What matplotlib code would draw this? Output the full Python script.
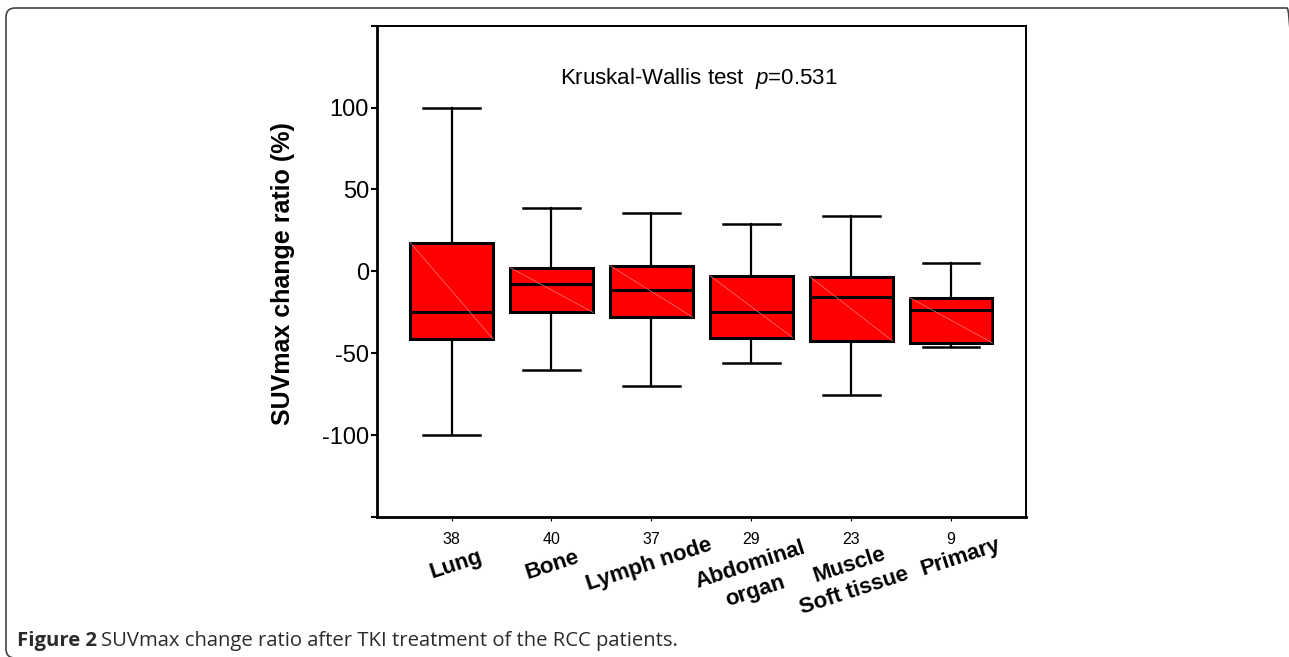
import matplotlib
matplotlib.use('Agg')
import matplotlib.pyplot as plt
from matplotlib.patches import FancyBboxPatch
from matplotlib.transforms import IdentityTransform

plt.rcParams['font.family'] = ['Liberation Sans', 'DejaVu Sans']
plt.rcParams['axes.unicode_minus'] = False
plt.rcParams['mathtext.fontset'] = 'custom'
plt.rcParams['mathtext.rm'] = 'Liberation Sans'
plt.rcParams['mathtext.it'] = 'Liberation Sans:italic'

# data (SUVmax change ratio, %)
sites = ['Lung', 'Bone', 'Lymph node', 'Abdominal\norgan', 'Muscle\nSoft tissue', 'Primary']
counts = [38, 40, 37, 29, 23, 9]
whislo = [-100, -60, -70, -56, -75.5, -46.5]
q1 = [-41.3, -25, -28, -40.5, -42.5, -43.7]
med = [-25, -8, -11.3, -25, -15.4, -23.5]
q3 = [17.6, 2.3, 3.5, -2.6, -3.2, -16]
whishi = [100, 38.7, 35.4, 29.2, 34, 5]

W, H, DPI = 1289, 657, 100
fig = plt.figure(figsize=(W / DPI, H / DPI), dpi=DPI)
ax = fig.add_axes([0.2922, 0.2131, 0.5037, 0.7478])

pos = list(range(1, len(sites) + 1))
bw = 0.83
stats = [dict(whislo=a, q1=b, med=c, q3=d, whishi=e)
         for a, b, c, d, e in zip(whislo, q1, med, q3, whishi)]
ax.bxp(stats, positions=pos, widths=bw, capwidths=0.57, showfliers=False,
       patch_artist=True,
       boxprops=dict(facecolor='#ff0000', edgecolor='black', linewidth=2.2),
       medianprops=dict(color='black', linewidth=2.2),
       whiskerprops=dict(color='black', linewidth=1.6),
       capprops=dict(color='black', linewidth=1.8))

# faint diagonal inside each box (artifact in original)
for p, lo, hi in zip(pos, q1, q3):
    ax.plot([p - bw / 2, p + bw / 2], [hi, lo], color='#ff7a7a', lw=0.5, zorder=3)

ax.set_xlim(0.25, 6.75)
ax.set_ylim(-150, 150)
ax.set_yticks([-150, -100, -50, 0, 50, 100, 150])
ax.set_yticklabels(['', '-100', '-50', '0', '50', '100', ''], fontsize=17)
ax.tick_params(axis='y', direction='out', length=4.5, width=1.5, pad=1)
ax.set_xticks(pos)
ax.set_xticklabels([str(c) for c in counts], fontsize=11.5)
ax.tick_params(axis='x', direction='out', length=3, width=0.8, pad=8)

for s in ['left', 'bottom']:
    ax.spines[s].set_linewidth(2.0)
for s in ['top', 'right']:
    ax.spines[s].set_linewidth(1.4)

ax.set_ylabel('SUVmax change ratio (%)', fontsize=18, fontweight='bold')
ax.yaxis.set_label_coords(-0.1258, 0.496)

# category names, rotated, one text per line (small hand nudges as in the original)
label_dx = [0.04, 0.01, -0.02, -0.01, -0.02, 0.1]
label_dy = [0, 0, 0, 0, 0, 0.015]
for p, name, dx, dy in zip(pos, sites, label_dx, label_dy):
    for k, line in enumerate(name.split('\n')):
        ax.text(p + dx + 0.05 * k, -0.0977 + dy - 0.053 * k, line,
                transform=ax.get_xaxis_transform(),
                rotation=18, rotation_mode='anchor', ha='center', va='center',
                fontsize=16, fontweight='bold')

ax.text(0.496, 0.8935, r'Kruskal-Wallis test  $p$=0.531', transform=ax.transAxes,
        ha='center', va='center', fontsize=16)

# outer journal frame
frame = FancyBboxPatch((6, -1), 1290, H - 8 + 1,
                       boxstyle='round,pad=0,rounding_size=9',
                       transform=IdentityTransform(), fill=False,
                       edgecolor='#444444', linewidth=1.2)
fig.patches.append(frame)

# caption
renderer = fig.canvas.get_renderer()
cap_color = '#2b2b2b'
fs = 13
t1 = fig.text(17 / W, 11 / H, 'Figure 2', fontsize=fs, fontweight='bold',
              color=cap_color, family=['Open Sans', 'DejaVu Sans'], va='baseline')
bb = t1.get_window_extent(renderer)
t2 = fig.text((bb.x1 + 5) / W, 11 / H,
              'SUVmax change ratio after TKI treatment of the RCC patients.',
              fontsize=fs, color=cap_color, family=['Open Sans', 'DejaVu Sans'],
              va='baseline')
total = t2.get_window_extent(renderer).x1 - 17
scale = 659 / total
fs = fs * scale
t1.set_fontsize(fs)
t2.set_fontsize(fs)
bb = t1.get_window_extent(renderer)
t2.set_x((bb.x1 + 0.3 * fs) / W)

fig.savefig('out.png', dpi=DPI)
